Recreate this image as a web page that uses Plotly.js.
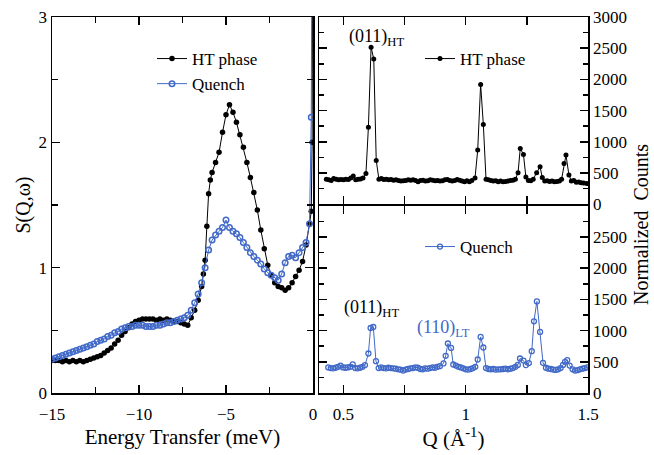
<!DOCTYPE html>
<html>
<head>
<meta charset="utf-8">
<script src="https://cdn.plot.ly/plotly-3.0.1.min.js"></script>
<style>html,body{margin:0;padding:0;background:#fff;}#chart{width:654px;height:455px;}</style>
</head>
<body>
<div id="chart"></div>
<script>
// Left panel: S(Q,w) vs energy transfer
const energyHT = [-15.0,-14.8,-14.6,-14.4,-14.2,-14.0,-13.8,-13.6,-13.4,-13.2,-13.0,-12.8,-12.6,-12.4,-12.2,-12.0,-11.8,-11.6,-11.4,-11.2,-11.0,-10.8,-10.6,-10.4,-10.2,-10.0,-9.8,-9.6,-9.4,-9.2,-9.0,-8.8,-8.6,-8.4,-8.2,-8.0,-7.8,-7.6,-7.4,-7.2,-7.0,-6.8,-6.6,-6.4,-6.3,-6.2,-6.1,-6.0,-5.9,-5.8,-5.6,-5.4,-5.2,-5.0,-4.8,-4.6,-4.4,-4.2,-4.0,-3.8,-3.6,-3.4,-3.2,-3.0,-2.8,-2.6,-2.4,-2.2,-2.0,-1.8,-1.6,-1.4,-1.2,-1.0,-0.8,-0.6,-0.4,-0.2,-0.1,-0.05,0.0];
const sqwHT = [0.26,0.26,0.26,0.25,0.26,0.25,0.26,0.25,0.26,0.25,0.26,0.27,0.28,0.29,0.30,0.32,0.34,0.36,0.39,0.42,0.46,0.49,0.52,0.55,0.57,0.58,0.59,0.59,0.59,0.59,0.58,0.59,0.58,0.59,0.58,0.57,0.57,0.56,0.55,0.54,0.60,0.66,0.74,0.85,0.95,1.06,1.33,1.59,1.70,1.76,1.84,1.92,2.08,2.22,2.30,2.24,2.16,2.06,1.96,1.84,1.72,1.60,1.46,1.30,1.15,1.02,0.94,0.88,0.85,0.84,0.82,0.84,0.88,0.93,0.98,1.05,1.18,1.35,1.45,2.0,5.0];
const energyQ = [-15.0,-14.8,-14.6,-14.4,-14.2,-14.0,-13.8,-13.6,-13.4,-13.2,-13.0,-12.8,-12.6,-12.4,-12.2,-12.0,-11.8,-11.6,-11.4,-11.2,-11.0,-10.8,-10.6,-10.4,-10.2,-10.0,-9.8,-9.6,-9.4,-9.2,-9.0,-8.8,-8.6,-8.4,-8.2,-8.0,-7.8,-7.6,-7.4,-7.2,-7.0,-6.8,-6.6,-6.4,-6.2,-6.0,-5.8,-5.6,-5.4,-5.2,-5.0,-4.8,-4.6,-4.4,-4.2,-4.0,-3.8,-3.6,-3.4,-3.2,-3.0,-2.8,-2.6,-2.4,-2.2,-2.0,-1.8,-1.6,-1.4,-1.2,-1.0,-0.8,-0.6,-0.4,-0.2,-0.1,-0.05];
const sqwQ = [0.27,0.28,0.29,0.30,0.31,0.32,0.33,0.34,0.35,0.36,0.37,0.38,0.39,0.41,0.42,0.43,0.45,0.46,0.48,0.49,0.51,0.52,0.53,0.53,0.54,0.54,0.54,0.53,0.53,0.53,0.54,0.54,0.55,0.56,0.56,0.57,0.58,0.59,0.60,0.62,0.66,0.72,0.79,0.88,1.00,1.14,1.22,1.26,1.29,1.32,1.38,1.32,1.29,1.27,1.24,1.20,1.16,1.12,1.09,1.06,1.03,0.99,0.96,0.94,0.92,0.90,0.95,1.04,1.09,1.10,1.08,1.12,1.16,1.20,1.35,2.20,4.0];

// Right panels: diffraction counts vs Q
const qHT = [0.43,0.44,0.45,0.46,0.47,0.48,0.49,0.50,0.51,0.52,0.53,0.54,0.55,0.56,0.57,0.58,0.592,0.602,0.613,0.624,0.634,0.645,0.655,0.665,0.675,0.685,0.695,0.705,0.715,0.725,0.735,0.745,0.755,0.765,0.775,0.785,0.795,0.805,0.815,0.825,0.835,0.845,0.855,0.865,0.875,0.885,0.895,0.905,0.915,0.925,0.935,0.945,0.955,0.965,0.975,0.985,0.995,1.005,1.015,1.025,1.038,1.049,1.061,1.072,1.083,1.093,1.103,1.113,1.123,1.133,1.143,1.153,1.163,1.173,1.183,1.193,1.203,1.214,1.223,1.236,1.246,1.256,1.266,1.276,1.290,1.304,1.313,1.323,1.333,1.343,1.353,1.363,1.373,1.383,1.392,1.402,1.410,1.422,1.432,1.442,1.452,1.462,1.472,1.482,1.495];
const countsHT = [400,390,380,410,400,390,395,390,400,395,420,450,390,400,405,420,490,1234,2516,2325,702,400,410,395,400,390,395,385,390,380,370,375,380,390,385,390,380,360,380,385,370,375,390,385,375,380,370,375,390,395,380,370,380,395,385,370,360,375,360,380,420,867,1920,1277,400,390,380,370,375,360,370,360,365,370,380,385,400,505,893,798,436,380,375,400,505,601,426,370,375,365,370,360,365,370,400,654,787,468,370,380,350,355,345,340,330];
const qQuench = [0.438,0.448,0.458,0.468,0.478,0.488,0.498,0.508,0.518,0.528,0.538,0.548,0.558,0.568,0.578,0.588,0.602,0.611,0.622,0.633,0.644,0.654,0.664,0.674,0.684,0.694,0.704,0.714,0.724,0.734,0.744,0.754,0.764,0.774,0.784,0.794,0.804,0.814,0.824,0.834,0.844,0.854,0.864,0.874,0.884,0.894,0.909,0.918,0.927,0.940,0.949,0.96,0.97,0.98,0.99,1.00,1.01,1.02,1.03,1.039,1.049,1.061,1.072,1.083,1.093,1.103,1.113,1.123,1.133,1.143,1.153,1.163,1.173,1.183,1.193,1.203,1.213,1.222,1.236,1.246,1.258,1.270,1.279,1.291,1.304,1.316,1.328,1.338,1.348,1.358,1.368,1.378,1.388,1.398,1.406,1.415,1.425,1.437,1.447,1.457,1.467,1.477,1.487,1.497];
const countsQuench = [410,400,395,405,420,440,410,405,410,420,460,400,395,405,420,447,633,1042,1058,510,400,410,400,395,405,400,395,390,380,375,360,375,385,395,400,410,405,385,380,395,390,400,410,405,420,430,474,596,793,723,457,440,420,410,395,380,375,385,400,420,537,899,729,400,385,380,385,375,380,380,385,390,380,390,400,420,450,553,520,447,480,670,1149,1468,979,484,405,390,385,375,370,380,400,450,500,527,440,380,360,365,380,390,400,410];

const seriesNames = ['HT phase', 'Quench'];
const energyTicks = [-15, -10, -5, 0];
const sqwTicks = [0, 1, 2, 3];
const qTicks = [0.5, 1, 1.5];
const countTicksTop = [0, 500, 1000, 1500, 2000, 2500, 3000];
const countTicksBottom = [0, 500, 1000, 1500, 2000, 2500];

const BLUE = '#4169c8';
const FONT = 'Liberation Serif, Times New Roman, serif';

const W = 654, H = 455;
const px = v => v / W;
const py = v => 1 - v / H;

const traces = [
  {x: energyHT, y: sqwHT, name: seriesNames[0], xaxis: 'x', yaxis: 'y', legend: 'legend',
   mode: 'lines+markers', line: {color: '#000', width: 1}, marker: {color: '#000', size: 5.5, symbol: 'circle'}},
  {x: energyQ, y: sqwQ, name: seriesNames[1], xaxis: 'x', yaxis: 'y', legend: 'legend',
   mode: 'lines+markers', line: {color: BLUE, width: 1}, marker: {color: BLUE, size: 5.5, symbol: 'circle-open', line: {width: 1.5, color: BLUE}}},
  {x: qHT, y: countsHT, name: seriesNames[0], xaxis: 'x2', yaxis: 'y2', legend: 'legend2',
   mode: 'lines+markers', line: {color: '#000', width: 1}, marker: {color: '#000', size: 5, symbol: 'circle'}},
  {x: qQuench, y: countsQuench, name: seriesNames[1], xaxis: 'x3', yaxis: 'y3', legend: 'legend3',
   mode: 'lines+markers', line: {color: BLUE, width: 1}, marker: {color: BLUE, size: 5, symbol: 'circle-open', line: {width: 1.3, color: BLUE}}}
];

function axisBase(extra) {
  return Object.assign({
    showline: true, linecolor: '#000', linewidth: 1.5, mirror: 'ticks',
    ticks: 'inside', ticklen: 8, tickwidth: 1.5, tickcolor: '#000',
    showgrid: false, zeroline: false,
    tickfont: {family: FONT, size: 17, color: '#000'}
  }, extra);
}

const xL = [px(52), px(313)];
const xR = [px(319), px(588)];
// the two right panels share one frame line: overlap by one line width
const yTop = py(17), yMidTop = py(204.2), yMidBot = py(205.8), yBot = py(393);
const minorTick = {ticks: 'inside', ticklen: 6, tickwidth: 1.5, tickcolor: '#000', tickmode: 'linear'};

const layout = {
  width: W, height: H,
  margin: {l: 0, r: 0, t: 0, b: 0},
  paper_bgcolor: '#fff', plot_bgcolor: '#fff',
  font: {family: FONT, color: '#000'},
  showlegend: true,
  xaxis: axisBase({domain: xL, anchor: 'y', range: [-15, 0], tickmode: 'array', tickvals: energyTicks, ticklabelstandoff: 5,
    minor: Object.assign({}, minorTick, {tick0: 0, dtick: 2.5}),
    title: {text: 'Energy Transfer (meV)', font: {family: FONT, size: 21, color: '#000'}, standoff: 6}}),
  yaxis: axisBase({domain: [yBot, yTop], anchor: 'x', range: [0, 3], tickmode: 'array', tickvals: sqwTicks,
    minor: Object.assign({}, minorTick, {tick0: 0, dtick: 0.5}),
    title: {text: 'S(Q,ω)', font: {family: FONT, size: 20, color: '#000'}, standoff: 2}}),
  xaxis2: axisBase({domain: xR, anchor: 'y2', range: [0.4, 1.5], tickmode: 'array', tickvals: qTicks, showticklabels: false,
    minor: Object.assign({}, minorTick, {ticklen: 8, tick0: 0.5, dtick: 0.25})}),
  yaxis2: axisBase({domain: [yMidTop, yTop], anchor: 'x2', side: 'right', range: [0, 3000], tickmode: 'array', tickvals: countTicksTop,
    minor: Object.assign({}, minorTick, {ticklen: 5, tick0: 0, dtick: 250})}),
  xaxis3: axisBase({domain: xR, anchor: 'y3', range: [0.4, 1.5], tickmode: 'array', tickvals: qTicks, ticklabelstandoff: 5,
    minor: Object.assign({}, minorTick, {ticklen: 8, tick0: 0.5, dtick: 0.25}),
    title: {text: 'Q (Å<sup>-1</sup>)', font: {family: FONT, size: 21, color: '#000'}, standoff: 6}}),
  yaxis3: axisBase({domain: [yBot, yMidBot], anchor: 'x3', side: 'right', range: [0, 3000], tickmode: 'array', tickvals: countTicksBottom,
    minor: Object.assign({}, minorTick, {ticklen: 5, tick0: 0, dtick: 250})}),
  legend: {x: px(152), y: py(41), xanchor: 'left', yanchor: 'top', bgcolor: 'rgba(0,0,0,0)',
    font: {family: FONT, size: 17, color: '#000'}, itemwidth: 30, tracegroupgap: 0},
  legend2: {x: px(420), y: py(41), xanchor: 'left', yanchor: 'top', bgcolor: 'rgba(0,0,0,0)',
    font: {family: FONT, size: 17, color: '#000'}, itemwidth: 30},
  legend3: {x: px(420), y: py(229), xanchor: 'left', yanchor: 'top', bgcolor: 'rgba(0,0,0,0)',
    font: {family: FONT, size: 17, color: '#000'}, itemwidth: 30},
  annotations: [
    {xref: 'paper', yref: 'paper', x: px(347), y: py(37), xanchor: 'left', yanchor: 'middle', showarrow: false,
     text: '(011)<sub>HT</sub>', font: {family: FONT, size: 18, color: '#000'}},
    {xref: 'paper', yref: 'paper', x: px(342), y: py(308), xanchor: 'left', yanchor: 'middle', showarrow: false,
     text: '(011)<sub>HT</sub>', font: {family: FONT, size: 18, color: '#000'}},
    {xref: 'paper', yref: 'paper', x: px(415), y: py(328), xanchor: 'left', yanchor: 'middle', showarrow: false,
     text: '(110)<sub>LT</sub>', font: {family: FONT, size: 18, color: BLUE}},
    {xref: 'paper', yref: 'paper', x: px(641), y: py(225), xanchor: 'center', yanchor: 'middle', showarrow: false, textangle: -90,
     text: 'Normalized  Counts', font: {family: FONT, size: 20, color: '#000'}}
  ]
};

Plotly.newPlot('chart', traces, layout, {displayModeBar: false, staticPlot: true});
</script>
</body>
</html>
